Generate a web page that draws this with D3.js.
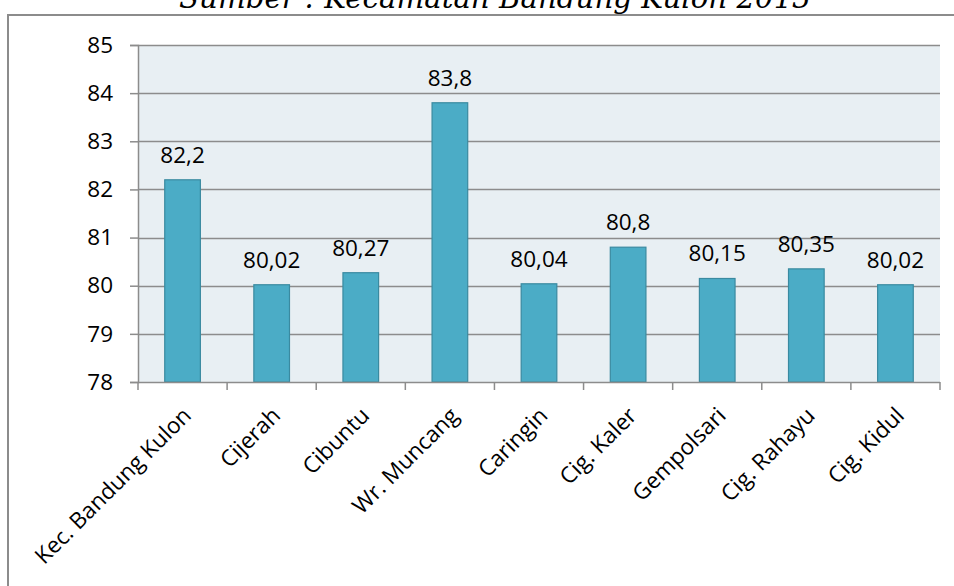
<!DOCTYPE html>
<html>
<head>
<meta charset="utf-8">
<script src="https://cdn.jsdelivr.net/npm/d3@7"></script>
<style>
  html, body { margin: 0; padding: 0; background: #fff; }
  svg { display: block; }
</style>
</head>
<body>
<svg id="chart" width="954" height="586"></svg>
<script>
// Values per kelurahan
const categories = ["Kec. Bandung Kulon", "Cijerah", "Cibuntu", "Wr. Muncang", "Caringin",
                    "Cig. Kaler", "Gempolsari", "Cig. Rahayu", "Cig. Kidul"];
const values = [82.2, 80.02, 80.27, 83.8, 80.04, 80.8, 80.15, 80.35, 80.02];
const labels = ["82,2", "80,02", "80,27", "83,8", "80,04", "80,8", "80,15", "80,35", "80,02"];
const yTicks = [78, 79, 80, 81, 82, 83, 84, 85];
const titleText = "Sumber : Kecamatan Bandung Kulon 2013";

const svg = d3.select("#chart");
const font = "'Open Sans', 'Noto Sans', sans-serif";
const fs = 22.5;

// Source caption (runs off the top edge)
svg.append("text")
  .attr("x", 495).attr("y", 8)
  .attr("text-anchor", "middle")
  .attr("font-family", "'DejaVu Serif', 'Liberation Serif', serif")
  .attr("font-style", "italic")
  .attr("font-size", 30)
  .attr("textLength", 632).attr("lengthAdjust", "spacingAndGlyphs")
  .attr("fill", "#000")
  .text(titleText);

// Outer chart frame
svg.append("rect")
  .attr("x", 8).attr("y", 15)
  .attr("width", 980).attr("height", 600)
  .attr("fill", "#fff")
  .attr("stroke", "#8c8c8c").attr("stroke-width", 2);

const plot = { left: 138, right: 940, top: 45, bottom: 382 };

const x = d3.scaleBand().domain(categories).range([plot.left, plot.right]).paddingInner(0.6).paddingOuter(0.3);
const xTick = d3.scaleBand().domain(categories).range([plot.left, plot.right]);
const y = d3.scaleLinear().domain([78, 85]).range([plot.bottom, plot.top]);

// Plot background
svg.append("rect")
  .attr("x", plot.left).attr("y", plot.top)
  .attr("width", plot.right - plot.left).attr("height", plot.bottom - plot.top)
  .attr("fill", "#e8eff3");

// Y axis with ticks
const yAxis = d3.axisLeft(y).tickValues(yTicks).tickSize(8).tickPadding(17).tickFormat(d => d);
const gy = svg.append("g").attr("transform", `translate(${plot.left},0)`).call(yAxis);
gy.select(".domain").attr("stroke", "#8c8c8c").attr("stroke-width", 1.5);
gy.selectAll(".tick line").attr("stroke", "#8c8c8c").attr("stroke-width", 1.5);
gy.selectAll(".tick text").attr("font-family", font).attr("font-size", fs).attr("fill", "#000");

// Horizontal gridlines
svg.append("g").selectAll("line")
  .data(yTicks.filter(t => t > 78))
  .join("line")
  .attr("x1", plot.left).attr("x2", plot.right)
  .attr("y1", d => Math.round(y(d)) + 0.5).attr("y2", d => Math.round(y(d)) + 0.5)
  .attr("stroke", "#8c8c8c").attr("stroke-width", 1.5);

// Bars
svg.append("g").selectAll("rect")
  .data(values)
  .join("rect")
  .attr("x", (d, i) => x(categories[i]))
  .attr("width", x.bandwidth())
  .attr("y", d => y(d))
  .attr("height", d => y(78) - y(d))
  .attr("fill", "#4bacc6")
  .attr("stroke", "#3a8aa0").attr("stroke-width", 1.2);

// Bottom axis with ticks at band edges
const gx = svg.append("g");
gx.append("line")
  .attr("x1", plot.left).attr("x2", plot.right)
  .attr("y1", plot.bottom + 0.5).attr("y2", plot.bottom + 0.5)
  .attr("stroke", "#8c8c8c").attr("stroke-width", 1.5);
const edges = categories.map(c => xTick(c)).concat([plot.right]);
gx.selectAll("line.tk")
  .data(edges)
  .join("line").attr("class", "tk")
  .attr("x1", d => d).attr("x2", d => d)
  .attr("y1", plot.bottom).attr("y2", plot.bottom + 8)
  .attr("stroke", "#8c8c8c").attr("stroke-width", 1.5);

// Rotated category labels
gx.selectAll("text")
  .data(categories)
  .join("text")
  .attr("transform", c => `translate(${xTick(c) + xTick.bandwidth() / 2 + 10},${plot.bottom + 35}) rotate(-45)`)
  .attr("text-anchor", "end")
  .attr("font-family", font).attr("font-size", fs)
  .attr("fill", "#000")
  .text(c => c);

// Value labels
svg.append("g").selectAll("text")
  .data(values)
  .join("text")
  .attr("x", (d, i) => x(categories[i]) + x.bandwidth() / 2)
  .attr("y", d => y(d) - 17)
  .attr("text-anchor", "middle")
  .attr("font-family", font).attr("font-size", fs)
  .attr("fill", "#000")
  .text((d, i) => labels[i]);
</script>
</body>
</html>
